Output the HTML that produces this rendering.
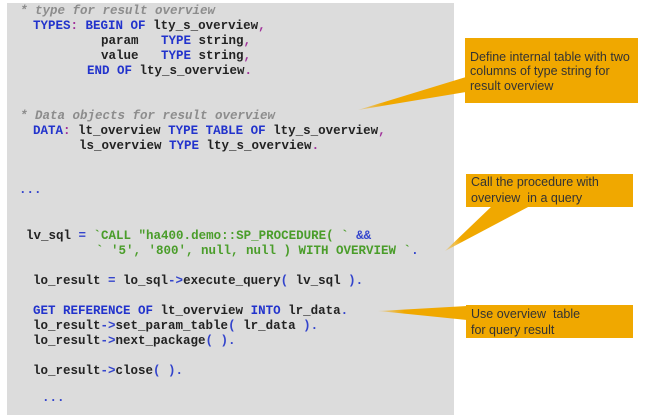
<!DOCTYPE html>
<html><head><meta charset="utf-8">
<style>
html,body{margin:0;padding:0;background:#fff;}
body{width:646px;height:419px;position:relative;overflow:hidden;}
#panel{position:absolute;left:7px;top:3px;width:447px;height:412px;background:#dcdcdc;}
.l{position:absolute;white-space:pre;font-family:"Liberation Mono",monospace;font-weight:bold;font-size:12.5px;line-height:15px;color:#222;}
.k{color:#2233cc;}
.c{color:#8c8c8c;font-style:italic;}
.s{color:#4a9d2a;}
.o{color:#3344cc;}
.p{color:#a0309a;}
.box{position:absolute;background:#f0a800;}
.t{position:absolute;font-family:"Liberation Sans",Arial,sans-serif;font-size:12.5px;color:#333;white-space:pre;}
svg{position:absolute;left:0;top:0;}
</style></head><body>
<div id="panel"></div>

<div class="l" style="left:20px;top:4px"><span class="c">* type for result overview</span></div>
<div class="l" style="left:33px;top:19px"><span class="k">TYPES</span><span class="p">:</span> <span class="k">BEGIN OF</span> lty_s_overview<span class="p">,</span></div>
<div class="l" style="left:101px;top:34px">param   <span class="k">TYPE</span> string<span class="p">,</span></div>
<div class="l" style="left:101px;top:49px">value   <span class="k">TYPE</span> string<span class="p">,</span></div>
<div class="l" style="left:87px;top:64px"><span class="k">END OF</span> lty_s_overview<span class="p">.</span></div>

<div class="l" style="left:20px;top:109px"><span class="c">* Data objects for result overview</span></div>
<div class="l" style="left:33px;top:124px"><span class="k">DATA</span><span class="p">:</span> lt_overview <span class="k">TYPE TABLE OF</span> lty_s_overview<span class="p">,</span></div>
<div class="l" style="left:79px;top:139px">ls_overview <span class="k">TYPE</span> lty_s_overview<span class="p">.</span></div>

<div class="l" style="left:19px;top:183px"><span class="o">...</span></div>

<div class="l" style="left:26px;top:229px">lv_sql <span class="o">=</span> <span class="s">`CALL "ha400.demo::SP_PROCEDURE( `</span> <span class="o">&amp;&amp;</span></div>
<div class="l" style="left:96px;top:244px"><span class="s">` '5', '800', null, null ) WITH OVERVIEW `</span><span class="o">.</span></div>

<div class="l" style="left:33px;top:274px">lo_result <span class="o">=</span> lo_sql<span class="o">-&gt;</span>execute_query<span class="o">(</span> lv_sql <span class="o">).</span></div>

<div class="l" style="left:33px;top:304px"><span class="k">GET REFERENCE OF</span> lt_overview <span class="k">INTO</span> lr_data<span class="o">.</span></div>
<div class="l" style="left:33px;top:319px">lo_result<span class="o">-&gt;</span>set_param_table<span class="o">(</span> lr_data <span class="o">).</span></div>
<div class="l" style="left:33px;top:334px">lo_result<span class="o">-&gt;</span>next_package<span class="o">( ).</span></div>

<div class="l" style="left:33px;top:364px">lo_result<span class="o">-&gt;</span>close<span class="o">( ).</span></div>

<div class="l" style="left:42px;top:391px"><span class="o">...</span></div>

<svg width="646" height="419" viewBox="0 0 646 419">
  <defs>
    <linearGradient id="g1" gradientUnits="userSpaceOnUse" x1="358" y1="110" x2="465" y2="85">
      <stop offset="0" stop-color="#f0a800" stop-opacity="0.25"/>
      <stop offset="0.25" stop-color="#f0a800" stop-opacity="1"/>
    </linearGradient>
    <linearGradient id="g2" gradientUnits="userSpaceOnUse" x1="445" y1="251" x2="510" y2="207">
      <stop offset="0" stop-color="#f0a800" stop-opacity="0.25"/>
      <stop offset="0.25" stop-color="#f0a800" stop-opacity="1"/>
    </linearGradient>
    <linearGradient id="g3" gradientUnits="userSpaceOnUse" x1="378" y1="311" x2="466" y2="313">
      <stop offset="0" stop-color="#f0a800" stop-opacity="0.2"/>
      <stop offset="0.3" stop-color="#f0a800" stop-opacity="1"/>
    </linearGradient>
  </defs>
  <polygon points="358,110 466,77 466,92" fill="url(#g1)"/>
  <polygon points="445,251 492,206 530,206" fill="url(#g2)"/>
  <polygon points="378,311 467,306 467,320" fill="url(#g3)"/>
</svg>

<div class="box" style="left:465px;top:38px;width:173px;height:65px;"></div>
<div class="t" style="left:470px;top:50px;line-height:14.3px;">Define internal table with two
columns of type string for
result overview</div>

<div class="box" style="left:466px;top:174px;width:167px;height:33px;"></div>
<div class="t" style="left:471px;top:175px;line-height:15.6px;">Call the procedure with
overview  in a query</div>

<div class="box" style="left:466px;top:305px;width:167px;height:33px;"></div>
<div class="t" style="left:471px;top:307px;line-height:15.6px;">Use overview  table
for query result</div>

</body></html>
